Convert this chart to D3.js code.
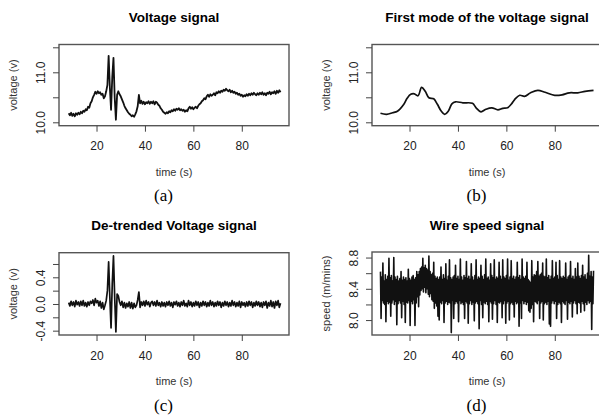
<!DOCTYPE html>
<html>
<head>
<meta charset="utf-8">
<script src="https://cdn.jsdelivr.net/npm/d3@7/dist/d3.min.js"></script>
<style>
  body { margin: 0; background: #fff; }
  text { font-family: "Liberation Sans", Arial, sans-serif; }
</style>
</head>
<body>
<svg id="fig" width="599" height="419"></svg>
<script>
// raw voltage, sampled every 0.5 s starting at 8.5 s
var voltageStart = 8.5, voltageStep = 0.5;
var voltage = [
  10.18, 10.14, 10.19, 10.13, 10.17, 10.12, 10.18, 10.15, 10.19,
  10.16, 10.21, 10.18, 10.23, 10.21, 10.26, 10.24, 10.31, 10.29, 10.38,
  10.42, 10.50, 10.55, 10.61, 10.57, 10.62, 10.58, 10.60, 10.55, 10.57,
  10.48, 10.52, 10.62, 10.75, 11.33, 10.70, 10.25, 10.90, 11.29, 10.50,
  10.05, 10.55, 10.62, 10.56, 10.52, 10.46, 10.40, 10.33, 10.28, 10.24,
  10.20, 10.17, 10.15, 10.12, 10.14, 10.11, 10.16, 10.22, 10.32, 10.55,
  10.38, 10.43, 10.37, 10.41, 10.36, 10.40, 10.38, 10.42, 10.37, 10.41,
  10.38, 10.42, 10.36, 10.41, 10.39, 10.35, 10.33, 10.28, 10.25, 10.21,
  10.19, 10.17, 10.20, 10.18, 10.22, 10.20, 10.24, 10.22, 10.26, 10.23,
  10.27, 10.25, 10.28, 10.24, 10.26, 10.23, 10.25, 10.21, 10.24, 10.22,
  10.28, 10.31, 10.27, 10.30, 10.26, 10.29, 10.31, 10.28, 10.33, 10.36,
  10.38, 10.42, 10.44, 10.48, 10.46, 10.52, 10.55, 10.51, 10.56, 10.53,
  10.55, 10.58, 10.54, 10.60, 10.58, 10.62, 10.59, 10.63, 10.61, 10.65,
  10.63, 10.67, 10.64, 10.62, 10.65, 10.60, 10.63, 10.59, 10.61, 10.57,
  10.59, 10.55, 10.57, 10.53, 10.55, 10.51, 10.54, 10.52, 10.56, 10.53,
  10.57, 10.54, 10.58, 10.55, 10.59, 10.56, 10.54, 10.58, 10.55, 10.59,
  10.56, 10.60, 10.55, 10.58, 10.54, 10.59, 10.57, 10.61, 10.56, 10.60,
  10.58, 10.62, 10.57, 10.63, 10.59, 10.64, 10.60
];

// first mode (smooth component)
var modeTime = [8, 10.5, 13, 15, 17.5, 19, 20.5, 22, 23.5, 25, 26.5, 28, 30, 31.5, 33, 34.5,
  36, 37.5, 39, 42, 46, 47.5, 49.5, 51.5, 54, 56.5, 58.5, 60.5, 62, 63.5, 65.5, 67.5,
  70, 73, 76, 80, 83, 86, 89.5, 92.5, 96];
var modeVoltage = [10.18, 10.16, 10.19, 10.22, 10.35, 10.48, 10.56, 10.57, 10.53, 10.70,
  10.62, 10.49, 10.47, 10.36, 10.23, 10.16, 10.22, 10.37, 10.41, 10.39, 10.38, 10.29,
  10.21, 10.26, 10.29, 10.25, 10.28, 10.29, 10.36, 10.46, 10.54, 10.52, 10.59, 10.64,
  10.60, 10.54, 10.55, 10.59, 10.59, 10.62, 10.64];

// de-trended voltage, same sampling as the raw signal
var detrended = [
  0.02, -0.03, 0.04, -0.02, 0.03, -0.04, 0.05, -0.01, 0.03,
  -0.03, 0.04, -0.02, 0.05, -0.03, 0.02, -0.04, 0.03, -0.02, 0.04,
  0.01, 0.06, -0.02, 0.08, 0.02, 0.05, -0.03, 0.04, -0.06, 0.02,
  -0.08, -0.02, 0.05, 0.20, 0.63, 0.10, -0.36, 0.30, 0.72, 0.10,
  -0.42, 0.15, 0.12, 0.03, -0.02, 0.04, -0.05, 0.02, -0.06, 0.01,
  -0.04, 0.03, -0.06, 0.02, -0.07, 0.01, -0.05, -0.02, 0.06, 0.18,
  -0.05, 0.03, -0.02, 0.04, -0.03, 0.05, -0.01, 0.03, -0.04, 0.02,
  0.04, -0.02, 0.03, -0.03, 0.05, -0.02, 0.02, -0.04, 0.03, -0.03,
  0.02, -0.04, 0.03, -0.02, 0.04, -0.03, 0.02, -0.05, 0.03, -0.01,
  0.04, -0.03, 0.02, -0.04, 0.03, -0.02, 0.05, -0.03, 0.01, -0.04,
  0.05, -0.02, 0.03, -0.04, 0.02, -0.03, 0.04, -0.02, 0.03, -0.05,
  0.02, -0.03, 0.04, -0.02, 0.03, -0.04, 0.02, -0.03, 0.05, -0.02,
  0.03, -0.04, 0.02, -0.03, 0.04, -0.02, 0.03, -0.05, 0.02, -0.03,
  0.04, -0.02, 0.03, -0.04, 0.02, -0.03, 0.05, -0.02, 0.03, -0.04,
  0.02, -0.03, 0.04, -0.05, 0.03, -0.02, 0.02, -0.04, 0.03, -0.03,
  0.04, -0.02, 0.03, -0.05, 0.02, -0.03, 0.04, -0.02, 0.03, -0.04,
  0.02, -0.05, 0.03, -0.02, 0.04, -0.06, 0.02, -0.03, 0.05, -0.04,
  0.03, -0.06, 0.04, -0.02, 0.05, -0.05, 0.01
];

// wire speed, sampled every 0.25 s starting at 8 s
var speedStart = 8, speedStep = 0.25;
var speed = [
  8.62, 8.02, 8.55, 8.25, 8.73, 8.22, 8.50, 8.20,
  8.58, 7.98, 8.52, 8.24, 8.56, 8.21, 8.79, 8.23,
  8.54, 8.05, 8.57, 8.22, 8.50, 8.26, 8.80, 8.20,
  8.55, 8.24, 8.52, 7.94, 8.56, 8.21, 8.50, 8.25,
  8.53, 8.22, 8.62, 8.03, 8.51, 8.24, 8.55, 8.20,
  8.52, 7.97, 8.54, 8.23, 8.50, 8.22, 8.65, 8.25,
  8.53, 7.93, 8.51, 8.24, 8.55, 8.21, 8.57, 8.26,
  8.52, 7.93, 8.54, 8.22, 8.62, 8.30, 8.58, 8.17,
  8.62, 8.32, 8.66, 8.38, 8.68, 8.40, 8.79, 8.36,
  8.67, 8.42, 8.70, 8.35, 8.66, 8.40, 8.64, 8.33,
  8.82, 8.30, 8.62, 8.34, 8.58, 8.26, 8.60, 8.24,
  8.74, 8.15, 8.56, 8.22, 8.53, 8.18, 8.55, 8.05,
  8.52, 8.00, 8.55, 8.23, 8.68, 8.21, 8.52, 8.25,
  8.58, 7.97, 8.53, 8.22, 8.72, 8.24, 8.51, 8.20,
  8.56, 8.23, 8.77, 8.22, 8.54, 7.84, 8.52, 8.25,
  8.55, 8.02, 8.57, 8.21, 8.70, 8.24, 8.53, 8.22,
  8.56, 7.98, 8.52, 8.25, 8.78, 8.21, 8.55, 8.23,
  8.51, 8.20, 8.57, 8.02, 8.54, 8.24, 8.75, 8.22,
  8.53, 7.96, 8.56, 8.21, 8.52, 8.25, 8.72, 8.20,
  8.55, 8.23, 8.51, 7.99, 8.57, 8.22, 8.77, 8.24,
  8.52, 8.21, 8.55, 7.89, 8.53, 8.25, 8.70, 8.20,
  8.56, 8.03, 8.52, 8.23, 8.58, 8.21, 8.78, 8.24,
  8.53, 8.20, 8.55, 7.98, 8.51, 8.24, 8.72, 8.22,
  8.57, 8.01, 8.54, 8.21, 8.77, 8.25, 8.52, 8.20,
  8.55, 7.97, 8.53, 8.23, 8.74, 8.22, 8.56, 8.24,
  8.52, 8.03, 8.77, 8.21, 8.55, 8.25, 8.53, 7.96,
  8.57, 8.22, 8.78, 8.24, 8.51, 8.00, 8.55, 8.21,
  8.76, 8.23, 8.53, 8.20, 8.56, 8.04, 8.52, 8.24,
  8.55, 8.21, 8.74, 8.23, 8.54, 7.92, 8.57, 8.22,
  8.52, 8.02, 8.78, 8.25, 8.55, 8.21, 8.53, 8.24,
  8.56, 8.20, 8.74, 8.23, 8.52, 8.12, 8.50, 8.10,
  8.48, 8.15, 8.76, 8.20, 8.55, 7.98, 8.58, 8.24,
  8.57, 8.23, 8.62, 8.21, 8.75, 8.25, 8.56, 8.02,
  8.58, 8.22, 8.60, 8.24, 8.73, 8.00, 8.56, 8.21,
  8.55, 8.23, 8.78, 8.20, 8.54, 8.24, 8.57, 7.95,
  8.52, 7.92, 8.56, 8.22, 8.76, 8.25, 8.53, 8.21,
  8.55, 8.24, 8.74, 8.02, 8.57, 8.20, 8.52, 8.23,
  8.76, 8.21, 8.55, 7.97, 8.53, 8.24, 8.56, 8.22,
  8.54, 8.20, 8.73, 8.25, 8.52, 8.01, 8.55, 8.23,
  8.57, 8.21, 8.75, 8.24, 8.53, 8.04, 8.56, 8.22,
  8.52, 8.25, 8.66, 8.21, 8.55, 8.08, 8.73, 8.23,
  8.56, 8.22, 8.53, 8.10, 8.57, 8.24, 8.70, 8.21,
  8.55, 8.12, 8.58, 8.23, 8.52, 8.20, 8.60, 8.25,
  8.83, 8.22, 8.56, 8.24, 8.62, 7.88, 8.55, 8.21,
  8.63
];

var timeTicks = [20, 40, 60, 80];
var voltTicks = [10.0, 10.5, 11.0, 11.5];
var voltLabels = [10.0, 11.0];
var trendTicks = [-0.4, -0.2, 0.0, 0.2, 0.4, 0.6];
var trendLabels = [-0.4, 0.0, 0.4];
var speedTicks = [8.0, 8.2, 8.4, 8.6, 8.8];
var speedLabels = [8.0, 8.4, 8.8];

function sampled(values, start, step) {
  return values.map(function(v, i) { return [start + i * step, v]; });
}

var svg = d3.select("#fig");
var boxWidth = 230;

function panel(o) {
  var g = svg.append("g");
  var x = d3.scaleLinear().domain([4.5, 99.5]).range([o.left, o.left + boxWidth]);
  var y = d3.scaleLinear().domain(o.yDomain).range([o.bottom, o.top]);

  var line = d3.line()
    .x(function(d) { return x(d[0]); })
    .y(function(d) { return y(d[1]); })
    .curve(o.curve || d3.curveLinear);

  g.append("path")
    .datum(o.data)
    .attr("d", line)
    .attr("fill", "none")
    .attr("stroke", "#111")
    .attr("stroke-width", o.lineWidth)
    .attr("stroke-linejoin", "round");

  g.append("rect")
    .attr("x", o.left).attr("y", o.top)
    .attr("width", boxWidth).attr("height", o.bottom - o.top)
    .attr("fill", "none").attr("stroke", "#555").attr("stroke-width", 1.4);

  var xAxis = g.append("g")
    .attr("transform", "translate(0," + o.bottom + ")")
    .call(d3.axisBottom(x).tickValues(timeTicks).tickSize(6).tickPadding(10).tickFormat(d3.format("d")));
  xAxis.select(".domain").remove();

  // R-style labels: plain hyphen, one decimal, only every other tick
  var yAxis = g.append("g")
    .attr("transform", "translate(" + o.left + ",0)")
    .call(d3.axisLeft(y).tickValues(o.yTicks).tickSize(6)
      .tickFormat(function(d) { return o.yLabels.indexOf(d) >= 0 ? d.toFixed(1) : ""; }));
  yAxis.select(".domain").remove();
  yAxis.selectAll(".tick text")
    .attr("x", null).attr("dy", null)
    .attr("text-anchor", "middle")
    .attr("transform", "translate(-14,0) rotate(-90)");

  [xAxis, yAxis].forEach(function(a) {
    a.selectAll(".tick line").attr("stroke", "#444");
    a.selectAll(".tick text")
      .attr("fill", "#222")
      .style("font-size", "12px")
      .style("font-family", "'Liberation Sans', Arial, sans-serif");
  });

  var cx = o.left + boxWidth / 2;
  var cy = (o.top + o.bottom) / 2;

  g.append("text")
    .attr("x", cx).attr("y", o.top - 22.5)
    .attr("text-anchor", "middle")
    .style("font-size", "13.5px").style("font-weight", "bold")
    .text(o.title);

  g.append("text")
    .attr("x", cx).attr("y", o.bottom + 50)
    .attr("text-anchor", "middle")
    .attr("fill", "#333")
    .style("font-size", "11px")
    .text("time (s)");

  g.append("text")
    .attr("transform", "translate(" + (o.left - 42) + "," + cy + ") rotate(-90)")
    .attr("text-anchor", "middle")
    .attr("fill", "#333")
    .style("font-size", "11px")
    .text(o.yTitle);

  g.append("text")
    .attr("x", cx - 10.5).attr("y", o.bottom + 75.5)
    .attr("text-anchor", "middle")
    .style("font-family", "'Liberation Serif', 'Times New Roman', serif")
    .style("font-size", "17px")
    .text(o.caption);
}

panel({
  left: 59, top: 44.5, bottom: 125.7,
  yDomain: [9.932, 11.556], yTicks: voltTicks, yLabels: voltLabels,
  data: sampled(voltage, voltageStart, voltageStep), lineWidth: 1.8,
  title: "Voltage signal", yTitle: "voltage (v)", caption: "(a)"
});

panel({
  left: 372, top: 44.5, bottom: 125.7,
  yDomain: [9.932, 11.556], yTicks: voltTicks, yLabels: voltLabels,
  data: modeTime.map(function(t, i) { return [t, modeVoltage[i]]; }),
  curve: d3.curveCatmullRom, lineWidth: 1.7,
  title: "First mode of the voltage signal", yTitle: "voltage (v)", caption: "(b)"
});

panel({
  left: 59, top: 252.7, bottom: 335,
  yDomain: [-0.465, 0.769], yTicks: trendTicks, yLabels: trendLabels,
  data: sampled(detrended, voltageStart, voltageStep), lineWidth: 1.7,
  title: "De-trended Voltage signal", yTitle: "voltage (v)", caption: "(c)"
});

panel({
  left: 372, top: 252, bottom: 335,
  yDomain: [7.809, 8.871], yTicks: speedTicks, yLabels: speedLabels,
  data: sampled(speed, speedStart, speedStep), lineWidth: 1.6,
  title: "Wire speed signal", yTitle: "speed (m/mins)", caption: "(d)"
});
</script>
</body>
</html>
